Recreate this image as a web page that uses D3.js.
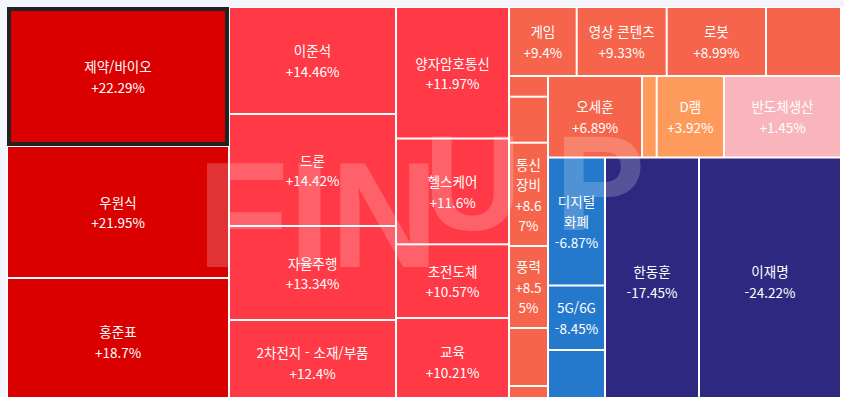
<!DOCTYPE html>
<html lang="ko">

<head>
    <meta charset="UTF-8">
    <script src="https://d3js.org/d3.v7.min.js"></script>
    <title>테마 트리맵</title>
    <style>
        body { margin: 0; background: #f3f5fa; overflow: hidden; }
    </style>
</head>

<body>
    <div id="container"></div>
    <script>
        const width = 844, height = 397;

        // 이름 (빈 칸은 라벨 없는 작은 셀), 등락률(%), 셀 크기
        const names = ["제약/바이오", "우원식", "홍준표", "이준석", "드론", "자율주행", "2차전지 - 소재/부품",
            "양자암호통신", "헬스케어", "초전도체", "교육", "게임", "영상 콘텐츠", "로봇", "",
            "", "", "통신장비", "풍력", "", "", "오세훈", "", "D램", "반도체생산",
            "디지털화폐", "5G/6G", "", "한동훈", "이재명"];
        const changes = [22.29, 21.95, 18.7, 14.46, 14.42, 13.34, 12.4, 11.97, 11.6, 10.57, 10.21, 9.4, 9.33, 8.99, 8.93,
            8.85, 8.74, 8.67, 8.55, 8.2, 7.5, 6.89, 4.6, 3.92, 1.45, -6.87, -8.45, -9.3, -17.45, -24.22];
        const sizes = [30858, 29304, 28194, 17869, 18704, 15698, 14195, 14860, 11955, 8328, 9831, 4671, 6210, 6852, 5175,
            807, 1794, 4029, 3198, 2262, 741, 7661, 1198, 5485, 9536, 7296, 3677, 3135, 23265, 35145];
        const selected = "제약/바이오";

        // 색상 구간
        const colorSteps = [-10, 0, 2, 5, 10, 15];
        const colors = ["#2e2880", "#2479cc", "#f8b5bc", "#fe9a5b", "#f5644b", "#ff3a46", "#da0000"];

        const fontFamily = "'Noto Sans CJK KR', 'Noto Sans', sans-serif";
        const fontSize = 13.5, lineH = 20.5;

        const svg = d3.select("#container")
            .append("svg")
            .attr("width", width)
            .attr("height", height);

        svg.append("rect")
            .attr("x", 7)
            .attr("y", 7)
            .attr("width", width - 7)
            .attr("height", height - 7)
            .attr("fill", "#fff");

        const color = d3.scaleThreshold()
            .domain(colorSteps)
            .range(colors);

        const data = names.map((name, i) => ({ name: name, change: changes[i], size: sizes[i] }));
        const root = d3.hierarchy({ children: data })
            .sum(d => d.size || 0);
        d3.treemap()
            .tile(d3.treemapSquarify.ratio(1.38))
            .size([834, 398])
            .paddingInner(2)
            .paddingOuter(1)(root);

        const g = svg.append("g")
            .attr("transform", "translate(7,7)");

        g.append("g")
            .selectAll("rect")
            .data(root.leaves())
            .enter()
            .append("rect")
            .attr("x", d => d.x0)
            .attr("y", d => d.y0)
            .attr("width", d => d.x1 - d.x0)
            .attr("height", d => d.y1 - d.y0)
            .attr("fill", d => color(d.data.change));

        // 워터마크
        const wm = g.append("g")
            .attr("fill", "#fff")
            .attr("fill-opacity", 0.2)
            .attr("font-family", "'Liberation Sans', Arial, sans-serif")
            .attr("font-weight", "bold");
        wm.append("text")
            .attr("x", 190)
            .attr("y", 260)
            .attr("font-size", 150)
            .text("FIN");
        wm.append("text")
            .attr("y", 223)
            .attr("font-size", 135)
            .call(t => {
                t.append("tspan").attr("x", 417).text("U");
                t.append("tspan").attr("x", 548).text("P");
            });

        // 선택된 셀 테두리
        g.append("g")
            .selectAll("rect")
            .data(root.leaves().filter(d => d.data.name === selected))
            .enter()
            .append("rect")
            .attr("x", d => d.x0 + 1)
            .attr("y", d => d.y0 + 1)
            .attr("width", d => d.x1 - d.x0 - 2)
            .attr("height", d => d.y1 - d.y0 - 2)
            .attr("fill", "none")
            .attr("stroke", "#222")
            .attr("stroke-width", 4);

        // 라벨 줄바꿈
        const measure = svg.append("text")
            .attr("font-family", fontFamily)
            .attr("font-size", fontSize)
            .attr("visibility", "hidden");
        function textWidth(s) {
            measure.text(s);
            return measure.node().getComputedTextLength();
        }
        function wrap(s, maxW) {
            let lines = [], line = "";
            for (const ch of s) {
                if (line && textWidth(line + ch) > maxW) {
                    lines.push(line.trim());
                    line = ch;
                } else {
                    line += ch;
                }
            }
            if (line.trim()) lines.push(line.trim());
            return lines;
        }
        const fmt = v => (v > 0 ? "+" : "") + v + "%";

        root.leaves().forEach(d => {
            if (!d.data.name) return;
            const w = d.x1 - d.x0, h = d.y1 - d.y0, maxW = w - 6;
            const lines = wrap(d.data.name, maxW).concat(wrap(fmt(d.data.change), maxW));
            if (lines.length * lineH > h || lines.some(l => textWidth(l) > maxW)) return;
            const cx = (d.x0 + d.x1) / 2, cy = (d.y0 + d.y1) / 2;
            g.append("text")
                .attr("font-family", fontFamily)
                .attr("font-size", fontSize)
                .attr("fill", "#fff")
                .attr("text-anchor", "middle")
                .attr("dominant-baseline", "central")
                .selectAll("tspan")
                .data(lines)
                .enter()
                .append("tspan")
                .attr("x", cx)
                .attr("y", (l, i) => cy + (i - (lines.length - 1) / 2) * lineH)
                .text(l => l);
        });
        measure.remove();
    </script>
</body>

</html>
